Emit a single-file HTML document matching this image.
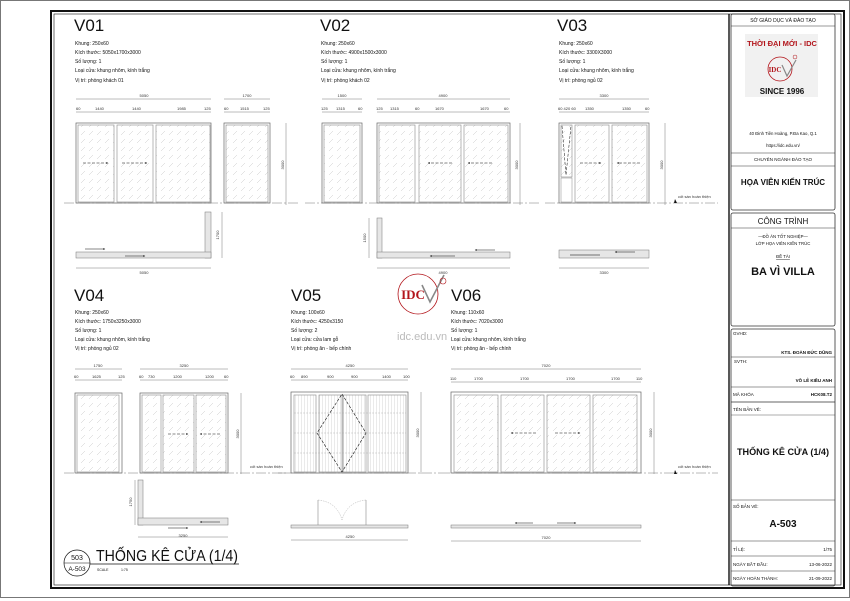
<!DOCTYPE html>
<html><head><meta charset="utf-8">
<style>
html,body{margin:0;padding:0;background:#fff;}
svg{display:block;}
text{font-family:"Liberation Sans",sans-serif;fill:#111;}
.t{font-size:5px;}
.d{font-size:4px;fill:#333;}
.h{font-size:17px;}
.fr{fill:none;stroke:#666;stroke-width:0.7;}
.gl{fill:url(#hatch);stroke:#888;stroke-width:0.6;}
.dm{stroke:#555;stroke-width:0.4;fill:none;}
.ar{stroke:#111;stroke-width:0.6;stroke-dasharray:3,1.5;fill:none;}
.pl{fill:#e6e6e6;stroke:#777;stroke-width:0.5;}
.gr{stroke:#777;stroke-width:0.5;stroke-dasharray:10,2,2,2;}
.tb{fill:none;stroke:#333;stroke-width:0.8;}
.tbt{font-size:5px;}
</style></head><body>
<svg width="850" height="601" viewBox="0 0 850 601" xmlns="http://www.w3.org/2000/svg">
<defs>
<pattern id="hatch" width="8" height="8" patternUnits="userSpaceOnUse">
<line x1="1" y1="7" x2="5" y2="3" stroke="#c8c8c8" stroke-width="0.5"/>
</pattern>
<pattern id="lam" width="3" height="3" patternUnits="userSpaceOnUse">
<line x1="1.5" y1="0" x2="1.5" y2="3" stroke="#ccc" stroke-width="0.4"/>
</pattern>
<marker id="ah" markerWidth="4" markerHeight="4" refX="3.5" refY="2" orient="auto"><path d="M0,0.8 L4,2 L0,3.2z" fill="#111"/></marker>
</defs>
<rect x="0.5" y="0.5" width="849" height="597" fill="#fff" stroke="#777" stroke-width="1"/>
<rect x="51" y="11" width="793" height="577" fill="none" stroke="#111" stroke-width="2"/>
<rect x="54" y="14" width="787" height="571" fill="none" stroke="#111" stroke-width="0.6"/>
<line x1="729" y1="14" x2="729" y2="585" stroke="#111" stroke-width="1.4"/>

<!-- Title block -->
<rect x="731" y="14" width="104" height="196" rx="2" class="tb"/>
<text x="783" y="22" class="tbt" text-anchor="middle">SỞ GIÁO DỤC VÀ ĐÀO TẠO</text>
<line x1="731" y1="26" x2="835" y2="26" stroke="#333" stroke-width="0.6"/>
<rect x="745" y="34" width="73" height="63" fill="#f1f1f1"/>
<text x="782" y="46" font-size="7.5" font-weight="bold" text-anchor="middle" style="fill:#b3161c">THỜI ĐẠI MỚI - IDC</text>
<circle cx="780" cy="69" r="12" fill="none" stroke="#b3161c" stroke-width="0.8"/>
<text x="775" y="72" font-size="7" font-weight="bold" text-anchor="middle" style="fill:#b3161c;font-family:'Liberation Serif',serif">IDC</text>
<path d="M782,65 L787,76 L796,60" fill="none" stroke="#888" stroke-width="1.2"/>
<circle cx="795" cy="57" r="2" fill="none" stroke="#b3161c" stroke-width="0.5"/>
<text x="782" y="94" font-size="8" font-weight="bold" text-anchor="middle">SINCE 1996</text>
<text x="783" y="135" font-size="4.3" text-anchor="middle">40 Đinh Tiên Hoàng, P.Đa Kao, Q.1</text>
<text x="783" y="147" font-size="4.3" text-anchor="middle">https://idc.edu.vn/</text>
<line x1="731" y1="153" x2="835" y2="153" stroke="#333" stroke-width="0.6"/>
<text x="783" y="161" font-size="4.5" text-anchor="middle">CHUYÊN NGÀNH ĐÀO TẠO</text>
<line x1="731" y1="166" x2="835" y2="166" stroke="#333" stroke-width="0.6"/>
<text x="783" y="185" font-size="8" font-weight="bold" text-anchor="middle">HỌA VIÊN KIẾN TRÚC</text>

<rect x="731" y="213" width="104" height="113" rx="2" class="tb"/>
<text x="783" y="224" font-size="8" text-anchor="middle">CÔNG TRÌNH</text>
<line x1="731" y1="228" x2="835" y2="228" stroke="#333" stroke-width="0.6"/>
<text x="783" y="238" font-size="4.3" text-anchor="middle">—ĐỒ ÁN TỐT NGHIỆP—</text>
<text x="783" y="245" font-size="4.3" text-anchor="middle">LỚP HỌA VIÊN KIẾN TRÚC</text>
<text x="783" y="258" font-size="4.3" text-anchor="middle" text-decoration="underline">ĐỀ TÀI</text>
<text x="783" y="275" font-size="11" font-weight="bold" text-anchor="middle">BA VÌ VILLA</text>

<rect x="731" y="329" width="104" height="257" rx="2" class="tb"/>
<text x="733" y="335" font-size="4.5">GVHD:</text>
<text x="832" y="354" font-size="4.5" font-weight="bold" text-anchor="end">KTS. ĐOÀN ĐỨC DŨNG</text>
<line x1="731" y1="357" x2="835" y2="357" stroke="#333" stroke-width="0.5"/>
<text x="734" y="363" font-size="4.5">SVTH:</text>
<text x="832" y="382" font-size="4.5" font-weight="bold" text-anchor="end">VÕ LÊ KIỀU ANH</text>
<line x1="731" y1="387" x2="835" y2="387" stroke="#333" stroke-width="0.6"/>
<text x="733" y="396" font-size="4.5">MÃ KHÓA</text>
<text x="832" y="396" font-size="4.5" font-weight="bold" text-anchor="end">HCK08.T2</text>
<line x1="731" y1="402" x2="835" y2="402" stroke="#333" stroke-width="0.8"/>
<text x="733" y="411" font-size="4.5">TÊN BẢN VẼ:</text>
<line x1="731" y1="415" x2="835" y2="415" stroke="#333" stroke-width="0.4"/>
<text x="737" y="455" font-size="9.5" font-weight="bold" textLength="92" lengthAdjust="spacingAndGlyphs">THỐNG KÊ CỬA  (1/4)</text>
<line x1="731" y1="500" x2="835" y2="500" stroke="#333" stroke-width="0.6"/>
<text x="733" y="508" font-size="4.5">SỐ BẢN VẼ:</text>
<text x="783" y="527" font-size="10" font-weight="bold" text-anchor="middle">A-503</text>
<line x1="731" y1="541" x2="835" y2="541" stroke="#333" stroke-width="0.6"/>
<text x="733" y="551" font-size="4.5">TỈ LỆ:</text>
<text x="832" y="551" font-size="4.5" text-anchor="end">1/75</text>
<line x1="731" y1="556" x2="835" y2="556" stroke="#333" stroke-width="0.6"/>
<text x="733" y="566" font-size="4.5">NGÀY BẮT ĐẦU:</text>
<text x="832" y="566" font-size="4.5" text-anchor="end">13-06-2022</text>
<line x1="731" y1="571" x2="835" y2="571" stroke="#333" stroke-width="0.6"/>
<text x="733" y="580" font-size="4.5">NGÀY HOÀN THÀNH:</text>
<text x="832" y="580" font-size="4.5" text-anchor="end">21-09-2022</text>

<!-- V01 -->
<text x="74" y="31" class="h">V01</text>
<text x="75" y="45" class="t">Khung: 250x60</text>
<text x="75" y="54" class="t">Kích thước: 5050x1700x3000</text>
<text x="75" y="63" class="t">Số lượng: 1</text>
<text x="75" y="72" class="t">Loại cửa: khung nhôm, kính trắng</text>
<text x="75" y="82" class="t">Vị trí: phòng khách 01</text>
<line x1="76" y1="99" x2="211" y2="99" class="dm"/><text x="144" y="97" class="d" text-anchor="middle">5050</text>
<line x1="76" y1="112" x2="211" y2="112" class="dm"/>
<text x="76" y="110" class="d">60</text><text x="95" y="110" class="d">1440</text><text x="132" y="110" class="d">1440</text><text x="177" y="110" class="d">1985</text><text x="204" y="110" class="d">125</text>
<line x1="224" y1="99" x2="270" y2="99" class="dm"/><text x="247" y="97" class="d" text-anchor="middle">1700</text>
<line x1="224" y1="112" x2="270" y2="112" class="dm"/>
<text x="224" y="110" class="d">60</text><text x="240" y="110" class="d">1515</text><text x="263" y="110" class="d">125</text>
<rect x="76" y="123" width="135" height="80" class="fr"/>
<rect x="78" y="125" width="36" height="77" class="gl"/>
<rect x="117" y="125" width="36" height="77" class="gl"/>
<rect x="156" y="125" width="54" height="77" class="gl"/>
<line x1="83" y1="163" x2="108" y2="163" class="ar" marker-end="url(#ah)"/>
<line x1="122" y1="163" x2="147" y2="163" class="ar" marker-end="url(#ah)"/>
<rect x="224" y="123" width="46" height="80" class="fr"/>
<rect x="226" y="125" width="42" height="77" class="gl"/>
<line x1="286" y1="123" x2="286" y2="205" class="dm"/><text x="284" y="165" class="d" transform="rotate(-90 284 165)" text-anchor="middle">3000</text>
<line x1="64" y1="203" x2="300" y2="203" class="gr"/>
<rect x="205" y="212" width="6" height="46" class="pl"/>
<rect x="76" y="252" width="135" height="6" class="pl"/>
<line x1="85" y1="249" x2="105" y2="249" stroke="#111" stroke-width="0.6" marker-end="url(#ah)"/>
<line x1="125" y1="256" x2="145" y2="256" stroke="#111" stroke-width="0.6" marker-end="url(#ah)"/>
<line x1="222" y1="212" x2="222" y2="258" class="dm"/><text x="219" y="235" class="d" transform="rotate(-90 219 235)" text-anchor="middle">1700</text>
<line x1="76" y1="268" x2="211" y2="268" class="dm"/><text x="144" y="274" class="d" text-anchor="middle">5050</text>

<!-- V02 -->
<text x="320" y="31" class="h">V02</text>
<text x="321" y="45" class="t">Khung: 250x60</text>
<text x="321" y="54" class="t">Kích thước: 4900x1500x3000</text>
<text x="321" y="63" class="t">Số lượng: 1</text>
<text x="321" y="72" class="t">Loại cửa: khung nhôm, kính trắng</text>
<text x="321" y="82" class="t">Vị trí: phòng khách 02</text>
<line x1="322" y1="99" x2="362" y2="99" class="dm"/><text x="342" y="97" class="d" text-anchor="middle">1500</text>
<line x1="322" y1="112" x2="362" y2="112" class="dm"/>
<text x="321" y="110" class="d">125</text><text x="336" y="110" class="d">1315</text><text x="358" y="110" class="d">60</text>
<line x1="377" y1="99" x2="510" y2="99" class="dm"/><text x="443" y="97" class="d" text-anchor="middle">4900</text>
<line x1="377" y1="112" x2="510" y2="112" class="dm"/>
<text x="376" y="110" class="d">125</text><text x="390" y="110" class="d">1315</text><text x="415" y="110" class="d">60</text><text x="435" y="110" class="d">1670</text><text x="480" y="110" class="d">1670</text><text x="504" y="110" class="d">60</text>
<rect x="322" y="123" width="40" height="80" class="fr"/>
<rect x="324" y="125" width="36" height="77" class="gl"/>
<rect x="377" y="123" width="133" height="80" class="fr"/>
<rect x="379" y="125" width="36" height="77" class="gl"/>
<rect x="419" y="125" width="42" height="77" class="gl"/>
<rect x="464" y="125" width="44" height="77" class="gl"/>
<line x1="452" y1="163" x2="428" y2="163" class="ar" marker-end="url(#ah)"/>
<line x1="492" y1="163" x2="468" y2="163" class="ar" marker-end="url(#ah)"/>
<line x1="520" y1="123" x2="520" y2="205" class="dm"/><text x="518" y="165" class="d" transform="rotate(-90 518 165)" text-anchor="middle">3000</text>
<line x1="305" y1="203" x2="540" y2="203" class="gr"/>
<rect x="377" y="218" width="5" height="40" class="pl"/>
<rect x="377" y="252" width="133" height="6" class="pl"/>
<line x1="495" y1="250" x2="475" y2="250" stroke="#111" stroke-width="0.6" marker-end="url(#ah)"/>
<line x1="455" y1="256" x2="430" y2="256" stroke="#111" stroke-width="0.6" marker-end="url(#ah)"/>
<line x1="369" y1="218" x2="369" y2="258" class="dm"/><text x="366" y="238" class="d" transform="rotate(-90 366 238)" text-anchor="middle">1500</text>
<line x1="377" y1="268" x2="510" y2="268" class="dm"/><text x="443" y="274" class="d" text-anchor="middle">4900</text>

<!-- V03 -->
<text x="557" y="31" class="h">V03</text>
<text x="559" y="45" class="t">Khung: 250x60</text>
<text x="559" y="54" class="t">Kích thước: 3300X3000</text>
<text x="559" y="63" class="t">Số lượng: 1</text>
<text x="559" y="72" class="t">Loại cửa: khung nhôm, kính trắng</text>
<text x="559" y="82" class="t">Vị trí: phòng ngủ 02</text>
<line x1="559" y1="99" x2="649" y2="99" class="dm"/><text x="604" y="97" class="d" text-anchor="middle">3300</text>
<line x1="559" y1="112" x2="649" y2="112" class="dm"/>
<text x="558" y="110" class="d">60 420 60</text><text x="585" y="110" class="d">1350</text><text x="622" y="110" class="d">1350</text><text x="645" y="110" class="d">60</text>
<rect x="559" y="123" width="90" height="80" class="fr"/>
<rect x="561" y="125" width="11" height="52" class="gl"/>
<rect x="561" y="178" width="11" height="24" fill="none" stroke="#888" stroke-width="0.5"/>
<path d="M562,126 L566,175 L571,126" class="ar" style="stroke-width:0.5"/>
<rect x="575" y="125" width="34" height="77" class="gl"/>
<rect x="612" y="125" width="35" height="77" class="gl"/>
<line x1="580" y1="163" x2="601" y2="163" class="ar" marker-end="url(#ah)"/>
<line x1="640" y1="163" x2="617" y2="163" class="ar" marker-end="url(#ah)"/>
<line x1="665" y1="123" x2="665" y2="205" class="dm"/><text x="663" y="165" class="d" transform="rotate(-90 663 165)" text-anchor="middle">3000</text>
<line x1="545" y1="203" x2="718" y2="203" class="gr"/>
<text x="678" y="198" class="d">cốt sàn hoàn thiện</text>
<path d="M675,199 L674,203 L677,203z" fill="#111"/>
<rect x="559" y="250" width="90" height="8" class="pl"/>
<line x1="570" y1="255" x2="600" y2="255" stroke="#888" stroke-width="1.2"/>
<line x1="635" y1="252" x2="615" y2="252" stroke="#111" stroke-width="0.6" marker-end="url(#ah)"/>
<line x1="559" y1="268" x2="649" y2="268" class="dm"/><text x="604" y="274" class="d" text-anchor="middle">3300</text>

<!-- V04 -->
<text x="74" y="301" class="h">V04</text>
<text x="75" y="314" class="t">Khung: 250x60</text>
<text x="75" y="323" class="t">Kích thước: 1750x3250x3000</text>
<text x="75" y="332" class="t">Số lượng: 1</text>
<text x="75" y="341" class="t">Loại cửa: khung nhôm, kính trắng</text>
<text x="75" y="350" class="t">Vị trí: phòng ngủ 02</text>
<line x1="75" y1="369" x2="122" y2="369" class="dm"/><text x="98" y="367" class="d" text-anchor="middle">1750</text>
<line x1="75" y1="380" x2="122" y2="380" class="dm"/>
<text x="74" y="378" class="d">60</text><text x="92" y="378" class="d">1625</text><text x="118" y="378" class="d">125</text>
<line x1="140" y1="369" x2="228" y2="369" class="dm"/><text x="184" y="367" class="d" text-anchor="middle">3250</text>
<line x1="140" y1="380" x2="228" y2="380" class="dm"/>
<text x="139" y="378" class="d">60</text><text x="148" y="378" class="d">730</text><text x="173" y="378" class="d">1200</text><text x="205" y="378" class="d">1200</text><text x="224" y="378" class="d">60</text>
<rect x="75" y="393" width="47" height="80" class="fr"/>
<rect x="77" y="395" width="42" height="77" class="gl"/>
<rect x="140" y="393" width="88" height="80" class="fr"/>
<rect x="142" y="395" width="19" height="77" class="gl"/>
<rect x="163" y="395" width="31" height="77" class="gl"/>
<rect x="196" y="395" width="30" height="77" class="gl"/>
<line x1="168" y1="434" x2="188" y2="434" class="ar" marker-end="url(#ah)"/>
<line x1="220" y1="434" x2="200" y2="434" class="ar" marker-end="url(#ah)"/>
<line x1="241" y1="393" x2="241" y2="474" class="dm"/><text x="239" y="434" class="d" transform="rotate(-90 239 434)" text-anchor="middle">3000</text>
<line x1="64" y1="473" x2="290" y2="473" class="gr"/>
<text x="250" y="468" class="d">cốt sàn hoàn thiện</text>
<rect x="138" y="480" width="5" height="45" class="pl"/>
<rect x="138" y="518" width="90" height="7" class="pl"/>
<line x1="220" y1="522" x2="200" y2="522" stroke="#111" stroke-width="0.6" marker-end="url(#ah)"/>
<line x1="168" y1="528" x2="188" y2="528" stroke="#111" stroke-width="0.6" marker-end="url(#ah)"/>
<line x1="135" y1="480" x2="135" y2="525" class="dm"/><text x="132" y="502" class="d" transform="rotate(-90 132 502)" text-anchor="middle">1750</text>
<line x1="138" y1="537" x2="228" y2="537" class="dm"/><text x="183" y="537" class="d" text-anchor="middle">3250</text>

<!-- V05 -->
<text x="291" y="301" class="h">V05</text>
<text x="291" y="314" class="t">Khung: 100x60</text>
<text x="291" y="323" class="t">Kích thước: 4250x3150</text>
<text x="291" y="332" class="t">Số lượng: 2</text>
<text x="291" y="341" class="t">Loại cửa: cửa lam gỗ</text>
<text x="291" y="350" class="t">Vị trí: phòng ăn - bếp chính</text>
<line x1="291" y1="369" x2="408" y2="369" class="dm"/><text x="350" y="367" class="d" text-anchor="middle">4250</text>
<line x1="291" y1="380" x2="408" y2="380" class="dm"/>
<text x="290" y="378" class="d">60</text><text x="301" y="378" class="d">890</text><text x="327" y="378" class="d">900</text><text x="351" y="378" class="d">900</text><text x="382" y="378" class="d">1400</text><text x="403" y="378" class="d">100</text>
<rect x="291" y="392" width="117" height="81" class="fr"/>
<rect x="294" y="395" width="22" height="77" fill="url(#lam)" stroke="#888" stroke-width="0.6"/>
<rect x="319" y="395" width="23" height="77" fill="url(#lam)" stroke="#888" stroke-width="0.6"/>
<rect x="343" y="395" width="23" height="77" fill="url(#lam)" stroke="#888" stroke-width="0.6"/>
<rect x="368" y="395" width="38" height="77" fill="url(#lam)" stroke="#888" stroke-width="0.6"/>
<g stroke="#aaa" stroke-width="0.4" stroke-dasharray="2,1"><line x1="294" y1="413" x2="406" y2="413"/><line x1="294" y1="433" x2="406" y2="433"/><line x1="294" y1="453" x2="406" y2="453"/></g>
<path d="M342,394 L366,433 L342,472 L317,433z" class="ar" style="stroke-width:0.6"/>
<line x1="421" y1="392" x2="421" y2="474" class="dm"/><text x="419" y="433" class="d" transform="rotate(-90 419 433)" text-anchor="middle">3000</text>
<line x1="278" y1="473" x2="440" y2="473" class="gr"/>
<rect x="291" y="525" width="117" height="3" class="pl"/>
<line x1="318" y1="500" x2="318" y2="525" stroke="#888" stroke-width="0.6"/>
<line x1="366" y1="500" x2="366" y2="525" stroke="#888" stroke-width="0.6"/>
<path d="M318,500 Q337,502 342,520 M366,500 Q347,502 342,520" fill="none" stroke="#999" stroke-width="0.4" stroke-dasharray="1.5,1"/>
<line x1="291" y1="540" x2="408" y2="540" class="dm"/><text x="350" y="538" class="d" text-anchor="middle">4250</text>

<!-- watermark logo -->
<circle cx="418" cy="294" r="20" fill="none" stroke="#b3161c" stroke-width="0.8"/>
<text x="413" y="299" font-size="13" font-weight="bold" text-anchor="middle" style="fill:#b3161c;font-family:'Liberation Serif',serif">IDC</text>
<path d="M422,285 L430,302 L444,275" fill="none" stroke="#888" stroke-width="1.6"/>
<circle cx="443" cy="281" r="3" fill="none" stroke="#b3161c" stroke-width="0.6"/>
<text x="397" y="340" font-size="11" style="fill:#bbb">idc.edu.vn</text>

<!-- V06 -->
<text x="451" y="301" class="h">V06</text>
<text x="451" y="314" class="t">Khung: 110x60</text>
<text x="451" y="323" class="t">Kích thước: 7020x3000</text>
<text x="451" y="332" class="t">Số lượng: 1</text>
<text x="451" y="341" class="t">Loại cửa: khung nhôm, kính trắng</text>
<text x="451" y="350" class="t">Vị trí: phòng ăn - bếp chính</text>
<line x1="451" y1="369" x2="641" y2="369" class="dm"/><text x="546" y="367" class="d" text-anchor="middle">7020</text>
<line x1="451" y1="382" x2="641" y2="382" class="dm"/>
<text x="450" y="380" class="d">110</text><text x="474" y="380" class="d">1700</text><text x="520" y="380" class="d">1700</text><text x="566" y="380" class="d">1700</text><text x="611" y="380" class="d">1700</text><text x="636" y="380" class="d">110</text>
<rect x="451" y="392" width="190" height="81" class="fr"/>
<rect x="454" y="395" width="44" height="77" class="gl"/>
<rect x="501" y="395" width="43" height="77" class="gl"/>
<rect x="547" y="395" width="43" height="77" class="gl"/>
<rect x="593" y="395" width="44" height="77" class="gl"/>
<line x1="536" y1="433" x2="511" y2="433" class="ar" marker-end="url(#ah)"/>
<line x1="555" y1="433" x2="580" y2="433" class="ar" marker-end="url(#ah)"/>
<line x1="654" y1="392" x2="654" y2="474" class="dm"/><text x="652" y="433" class="d" transform="rotate(-90 652 433)" text-anchor="middle">3000</text>
<line x1="440" y1="473" x2="718" y2="473" class="gr"/>
<text x="678" y="468" class="d">cốt sàn hoàn thiện</text>
<path d="M675,470 L674,474 L677,474z" fill="#111"/>
<rect x="451" y="525" width="190" height="3" class="pl"/>
<line x1="533" y1="523" x2="515" y2="523" stroke="#111" stroke-width="0.6" marker-end="url(#ah)"/>
<line x1="557" y1="523" x2="576" y2="523" stroke="#111" stroke-width="0.6" marker-end="url(#ah)"/>
<line x1="451" y1="541" x2="641" y2="541" class="dm"/><text x="546" y="539" class="d" text-anchor="middle">7020</text>

<!-- bottom title -->
<circle cx="77" cy="563" r="13" fill="#fff" stroke="#111" stroke-width="0.7"/>
<line x1="64" y1="563" x2="90" y2="563" stroke="#111" stroke-width="0.5"/>
<text x="77" y="560" font-size="7" text-anchor="middle">503</text>
<text x="77" y="571" font-size="6.5" text-anchor="middle">A-503</text>
<text x="96" y="561" font-size="16" textLength="142" lengthAdjust="spacingAndGlyphs">THỐNG KÊ CỬA (1/4)</text>
<line x1="90" y1="564" x2="239" y2="564" stroke="#111" stroke-width="0.7"/>
<text x="97" y="571" font-size="3.5">SCALE</text>
<text x="121" y="571" font-size="3.5">1:75</text>
</svg>
</body></html>
